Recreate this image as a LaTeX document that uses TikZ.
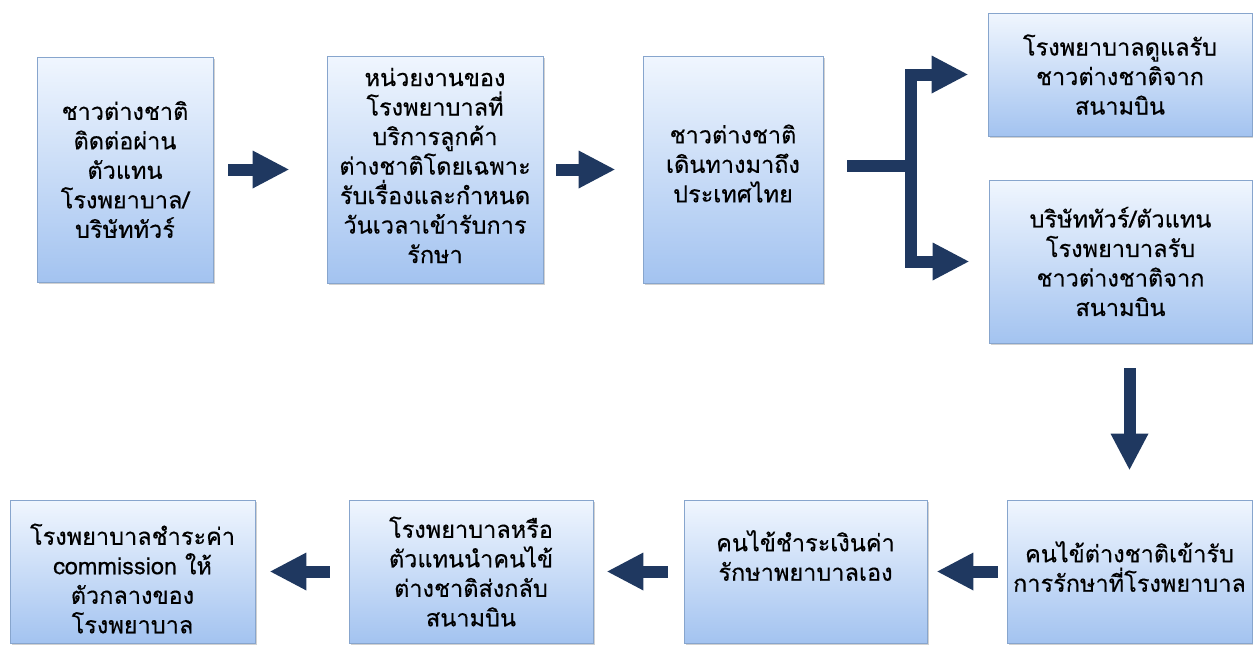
\documentclass[tikz,border=0pt]{standalone}
\usepackage{fontspec}
\newfontfamily\thaifont[Script=Thai,FakeBold=0.4]{Loma}
\usetikzlibrary{arrows.meta,shadows,calc}
\definecolor{navy}{RGB}{31,56,96}
\definecolor{boxtop}{RGB}{240,246,254}
\definecolor{boxbot}{RGB}{163,195,240}
\definecolor{boxline}{RGB}{135,165,205}
\begin{document}
\begin{tikzpicture}[x=1pt,y=-1pt,
  box/.style={rectangle, draw=boxline, line width=0.8pt, top color=boxtop, bottom color=boxbot,
    drop shadow={shadow xshift=2pt, shadow yshift=-2pt, fill=black!40, opacity=0.45},
    align=center, inner sep=2pt, font=\thaifont\fontsize{23.5}{29.5}\selectfont},
  txt/.style={align=center, inner sep=0pt, font=\thaifont\fontsize{23.5}{29.5}\selectfont},
  shaft/.style={navy, line width=12pt},
  blk/.style={navy, line width=12pt, -{Triangle[length=36pt,width=38pt,line width=0pt]}}]
\useasboundingbox (0,0) rectangle (1253,645);

\node[box, minimum width=176pt, minimum height=225pt] (b1) at (125,169.5)
  {ชาวต่างชาติ\\ติดต่อผ่าน\\ตัวแทน\\โรงพยาบาล/\\บริษัททัวร์};
\node[box, minimum width=216pt, minimum height=227pt] (b2) at (435,169.5) {};
\node[txt] (t2) at ($(b2.center)+(0,-4)$)
  {หน่วยงานของ\\โรงพยาบาลที่\\บริการลูกค้า\\ต่างชาติโดยเฉพาะ\\รับเรื่องและกำหนด\\วันเวลาเข้ารับการ\\รักษา};
\node[box, minimum width=180pt, minimum height=227pt] (b3) at (733,169.5) {};
\node[txt] (t3) at ($(b3.center)+(0,-6)$) {ชาวต่างชาติ\\เดินทางมาถึง\\ประเทศไทย};
\node[box, minimum width=264pt, minimum height=123pt] (b4) at (1120,74.5)
  {โรงพยาบาลดูแลรับ\\ชาวต่างชาติจาก\\สนามบิน};
\node[box, minimum width=263pt, minimum height=163pt] (b5) at (1120.5,261.5)
  {บริษัททัวร์/ตัวแทน\\โรงพยาบาลรับ\\ชาวต่างชาติจาก\\สนามบิน};
\node[box, minimum width=245pt, minimum height=143pt] (b6) at (1129.5,571.5) {};
\node[txt] (t6) at ($(b6.center)+(0,-5)$) {คนไข้ต่างชาติเข้ารับ\\การรักษาที่โรงพยาบาล};
\node[box, minimum width=243pt, minimum height=143pt] (b7) at (805.5,571.5) {};
\node[txt] (t7) at ($(b7.center)+(0,-16)$) {คนไข้ชำระเงินค่า\\รักษาพยาบาลเอง};
\node[box, minimum width=244pt, minimum height=143pt] (b8) at (471,571.5)
  {โรงพยาบาลหรือ\\ตัวแทนนำคนไข้\\ต่างชาติส่งกลับ\\สนามบิน};
\node[box, minimum width=245pt, minimum height=143pt] (b9) at (132.5,571.5) {};
\node[txt] (t9) at ($(b9.center)+(0,7)$) {โรงพยาบาลชำระค่า\\commission ให้\\ตัวกลางของ\\โรงพยาบาล};

% top row
\draw[blk, shorten <=15pt, shorten >=38pt] (b1) -- (b2);
\draw[blk, shorten <=13pt, shorten >=28pt] (b2) -- (b3);
% fork
\coordinate (fk) at (911,166);
\draw[shaft, shorten <=24pt] (b3.east |- fk) -- (fk);
\draw[blk, shorten >=20pt] (fk) |- (b4.west);
\draw[blk, shorten >=20pt] (fk) |- (b5.west);
% down
\draw[blk, shorten <=25pt, shorten >=30pt] (b6.north |- b5.south) -- (b6.north);
% bottom row
\draw[blk, shorten <=9pt, shorten >=10pt] (b6) -- (b7);
\draw[blk, shorten <=16pt, shorten >=14pt] (b7) -- (b8);
\draw[blk, shorten <=19pt, shorten >=15pt] (b8) -- (b9);
\end{tikzpicture}
\end{document}
